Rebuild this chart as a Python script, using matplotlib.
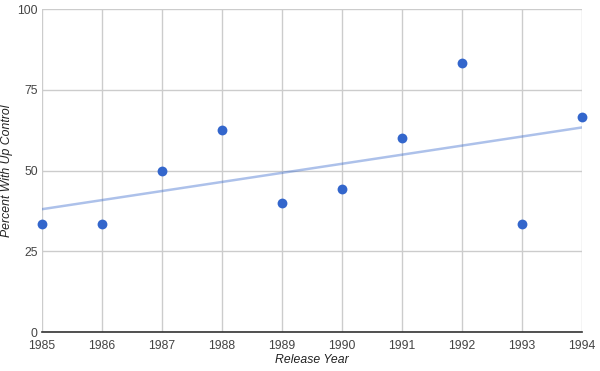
import matplotlib.pyplot as plt
import numpy as np

plt.rcParams['font.family'] = ['Liberation Sans', 'DejaVu Sans']

## Data
years = [1985, 1986, 1987, 1988, 1989, 1990, 1991, 1992, 1993, 1994]
percent_up = [33.3, 33.3, 50.0, 62.5, 40.0, 44.4, 60.0, 83.3, 33.3, 66.7]
y_ticks = [0, 25, 50, 75, 100]

fig = plt.figure(figsize=(6, 3.71), dpi=100)
ax = fig.add_axes([0.07, 0.1051, 0.9, 0.8706])

## Trendline (least squares)
slope, intercept = np.polyfit(years, percent_up, 1)
tx = np.array([years[0], years[-1]])
ax.plot(tx, slope * tx + intercept, color='#3366cc', alpha=0.4, lw=1.8, zorder=2)

## Points
ax.scatter(years, percent_up, s=50, color='#3366cc', zorder=3, clip_on=False, linewidths=0)

## Config the graph
ax.set_xlim(1985, 1994)
ax.set_ylim(0, 100)
ax.set_xticks(years)
ax.set_yticks(y_ticks)
ax.grid(True, color='#cccccc', lw=1)
ax.set_axisbelow(True)
for s in ['top', 'right', 'left']:
    ax.spines[s].set_visible(False)
ax.spines['bottom'].set_color('#333333')
ax.spines['bottom'].set_linewidth(1.2)
ax.tick_params(length=0, labelsize=8.8, labelcolor='#444444')
ax.tick_params(axis='x', pad=6)
ax.tick_params(axis='y', pad=3)
ax.set_xlabel('Release Year', style='italic', fontsize=8.8, color='#222222', labelpad=1)
ax.set_ylabel('Percent With Up Control', style='italic', fontsize=8.8, color='#222222', labelpad=3)

fig.savefig('out.png', dpi=100)
